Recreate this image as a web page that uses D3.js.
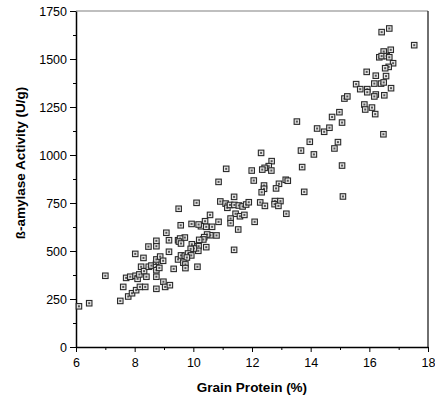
<!DOCTYPE html>
<html>
<head>
<meta charset="utf-8">
<script src="https://cdn.jsdelivr.net/npm/d3@7/dist/d3.min.js"></script>
<style>
  body { margin: 0; background: #fff; }
  svg { display: block; font-family: Arial, "Liberation Sans", sans-serif; }
</style>
</head>
<body>
<div id="chart"></div>
<script>
const width = 435
const height = 398

// Grain protein (%) and beta-amylase activity (U/g)
const protein = [
  6.10, 6.45, 7.00, 7.51, 7.61, 7.78, 7.91, 8.05, 8.18, 8.36, 7.71, 7.85, 8.03, 8.10, 8.16,
  8.22, 8.32, 8.40, 8.48, 8.57, 8.73, 8.74, 8.73, 8.74, 8.84, 8.87, 8.97, 8.74, 8.74, 8.98,
  9.04, 9.20, 9.33, 9.17, 9.08, 9.17, 8.47, 8.74, 8.74, 8.30, 8.02, 9.48, 9.48, 10.86, 9.50,
  10.11, 10.92, 11.10, 11.16, 11.25, 11.40, 11.55, 11.68, 11.80, 11.89, 11.39, 11.44, 11.59, 11.74, 11.27,
  11.27, 11.53, 11.39, 10.86, 10.57, 10.40, 10.26, 10.44, 10.64, 10.18, 9.94, 9.57, 10.58, 10.79, 10.47,
  10.37, 10.34, 10.20, 10.44, 10.18, 10.17, 10.00, 9.95, 10.02, 9.91, 9.71, 9.55, 9.51, 9.58, 9.58,
  9.71, 9.82, 9.93, 9.78, 9.66, 9.73, 9.73, 10.14, 13.97, 13.67, 12.31, 12.67, 12.57, 12.43, 12.35,
  12.66, 11.99, 11.12, 13.71, 12.06, 13.15, 13.22, 12.92, 12.82, 12.41, 12.41, 12.33, 13.78, 12.28, 12.44,
  12.78, 12.97, 12.77, 12.90, 13.17, 12.09, 15.10, 15.55, 15.69, 15.93, 15.93, 16.17, 16.40, 16.49, 16.22,
  16.17, 16.51, 15.15, 15.25, 15.83, 15.86, 16.09, 16.20, 16.48, 14.73, 14.98, 15.07, 13.53, 14.22, 14.46,
  14.64, 14.93, 14.11, 14.81, 15.07, 16.42, 16.68, 17.53, 16.49, 16.73, 16.34, 16.42, 16.59, 16.68, 16.81,
  16.66, 16.54, 15.91, 16.22, 16.57, 16.74
]
const activity = [
  212, 228, 371, 240, 313, 263, 280, 296, 313, 313, 360, 366, 371, 355, 378,
  418, 395, 366, 418, 424, 433, 456, 416, 400, 412, 471, 449, 366, 303, 340,
  313, 322, 407, 496, 595, 556, 523, 525, 553, 464, 485, 556, 456, 860, 720,
  751, 758, 747, 725, 740, 740, 737, 732, 742, 754, 782, 694, 681, 688, 669,
  645, 612, 506, 652, 688, 655, 629, 626, 626, 638, 641, 634, 582, 581, 586,
  572, 560, 558, 520, 525, 501, 525, 535, 513, 511, 570, 565, 549, 539, 477,
  475, 487, 477, 466, 439, 430, 411, 418, 1069, 1023, 1011, 968, 942, 933, 924,
  919, 919, 928, 937, 867, 871, 866, 850, 826, 841, 824, 806, 808, 753, 735,
  760, 760, 744, 735, 694, 652, 784, 1369, 1343, 1343, 1327, 1372, 1372, 1378, 1315,
  1305, 1311, 1294, 1305, 1263, 1237, 1247, 1213, 1108, 1198, 1223, 1169, 1174, 1138, 1121,
  1142, 1067, 1003, 1034, 945, 1640, 1659, 1572, 1539, 1548, 1509, 1515, 1515, 1509, 1478,
  1459, 1452, 1433, 1413, 1411, 1348
]

const xTicks = [6, 8, 10, 12, 14, 16, 18]
const xMinorTicks = [7, 9, 11, 13, 15, 17]
const yTicks = [0, 250, 500, 750, 1000, 1250, 1500, 1750]
const yMinorTicks = [125, 375, 625, 875, 1125, 1375, 1625]

const xTitle = "Grain Protein (%)"
const yTitle = "ß-amylase Activity (U/g)"

const margin = {top: 11, right: 7, bottom: 51, left: 76}

const svg = d3.select("#chart")
  .append("svg")
    .attr("width", width)
    .attr("height", height)

const x = d3.scaleLinear()
    .domain([6, 18])
    .range([margin.left, width - margin.right])

const y = d3.scaleLinear()
    .domain([0, 1750])
    .range([height - margin.bottom, margin.top])

// frame: grey top line, dark right line
svg.append("line")
    .attr("x1", x(6)).attr("x2", x(18))
    .attr("y1", y(1750)).attr("y2", y(1750))
    .attr("stroke", "#808080")
    .attr("stroke-width", 1.2)
svg.append("line")
    .attr("x1", x(18)).attr("x2", x(18))
    .attr("y1", y(1750)).attr("y2", y(0))
    .attr("stroke", "#222")
    .attr("stroke-width", 1.3)

// minor ticks first so the major axis draws over them
svg.append("g")
    .attr("transform", `translate(0,${y(0)})`)
    .call(d3.axisBottom(x).tickValues(xMinorTicks).tickSize(3).tickFormat(""))
    .call(g => g.select(".domain").remove())
svg.append("g")
    .attr("transform", `translate(${x(6)},0)`)
    .call(d3.axisLeft(y).tickValues(yMinorTicks).tickSize(3).tickFormat(""))
    .call(g => g.select(".domain").remove())

const xAxis = svg.append("g")
    .attr("transform", `translate(0,${y(0)})`)
    .call(d3.axisBottom(x).tickValues(xTicks).tickFormat(d3.format("d"))
      .tickSize(5).tickSizeOuter(0).tickPadding(6))
const yAxis = svg.append("g")
    .attr("transform", `translate(${x(6)},0)`)
    .call(d3.axisLeft(y).tickValues(yTicks).tickFormat(d3.format("d"))
      .tickSize(6).tickSizeOuter(0).tickPadding(3))

for (const g of [xAxis, yAxis]) {
  g.select(".domain").attr("stroke", "#000").attr("stroke-width", 1.5)
  g.selectAll("text")
      .attr("fill", "#000")
      .style("font-size", "12.5px")
}
svg.selectAll(".tick line").attr("stroke", "#000")

// square markers
const pts = protein.map((p, i) => ({p, a: activity[i]}))
const s = 5.5
const marks = svg.append("g")
  .selectAll("g")
  .data(pts)
  .join("g")
    .attr("transform", d => `translate(${x(d.p)},${y(d.a)})`)
marks.append("rect")
    .attr("x", -s / 2).attr("y", -s / 2)
    .attr("width", s).attr("height", s)
    .attr("fill", "#e4e4e4")
    .attr("stroke", "#2a2a2a")
    .attr("stroke-width", 1.1)
marks.append("rect")
    .attr("x", -1).attr("y", -1)
    .attr("width", 2).attr("height", 2)
    .attr("fill", "#555")

// axis titles
svg.append("text")
    .attr("x", (x(6) + x(18)) / 2)
    .attr("y", 392)
    .attr("text-anchor", "middle")
    .style("font-size", "13.5px")
    .style("font-weight", "bold")
    .text(xTitle)

svg.append("text")
    .attr("transform", `translate(25,${(y(0) + y(1750)) / 2 - 16}) rotate(-90)`)
    .attr("text-anchor", "middle")
    .style("font-size", "13.5px")
    .style("font-weight", "bold")
    .text(yTitle)
</script>
</body>
</html>
